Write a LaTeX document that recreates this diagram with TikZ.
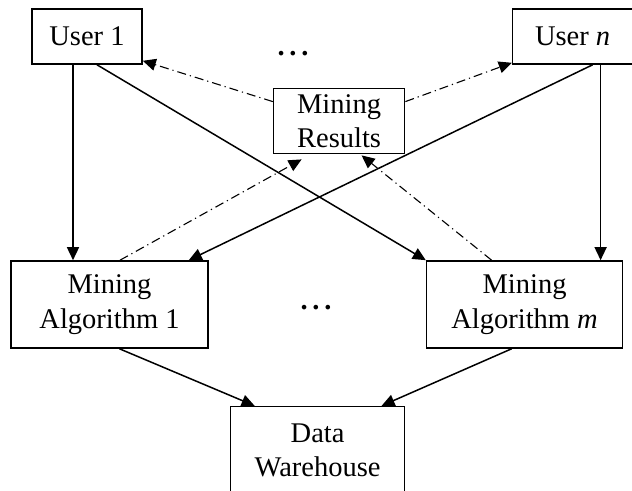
\documentclass[tikz,border=0pt]{standalone}
\usepackage{fontspec}
\setmainfont{Liberation Serif}
\usetikzlibrary{arrows.meta,positioning}

\begin{document}
\begin{tikzpicture}[
  x=0.5pt, y=-0.5pt,
  box/.style={draw, line width=0.8pt, align=center, inner sep=0pt,
              font=\fontsize{14.25}{17.25}\selectfont},
  dots/.style={inner sep=0pt, font=\fontsize{14.25}{17.25}\selectfont\bfseries},
  arr/.style={-{Triangle[length=6.5pt,width=6pt]}, line width=0.75pt},
  res/.style={-{Triangle[length=6.5pt,width=6pt]}, line width=0.55pt,
              dash pattern=on 4.5pt off 2pt on 0.6pt off 2pt}
]
\useasboundingbox (0,0) rectangle (632,491);
\node[box, minimum width=55pt, minimum height=27.5pt] (user1) at (87,36.5) {User 1};
\node[box, minimum width=60pt, minimum height=27.5pt, right=184.5pt of user1] (usern) {User \textit{n}};
\node[box, minimum width=65.5pt, minimum height=32.5pt, below right=11.5pt and 65pt of user1] (results) {Mining\\Results};
\node[box, minimum width=98.5pt, minimum height=43.5pt] (alg1) at (109.5,304.5) {Mining\\Algorithm 1};
\node[box, minimum width=98pt, minimum height=43.5pt, right=108.5pt of alg1] (algm) {Mining\\Algorithm \textit{m}};
\node[box, minimum width=87pt, minimum height=44pt, below right=28.5pt and 10.5pt of alg1] (ware) {Data\\Warehouse};
\node[dots] (dotsu) at (293,54) {.\,.\,.};
\node[dots] (dotsa) at (316,308) {.\,.\,.};
% users to algorithms
\draw[arr] ([xshift=-7pt]user1.south) -- ([xshift=-7pt]user1.south |- alg1.north);
\draw[arr] ([xshift=5pt]user1.south) -- (algm.north west);
\draw[arr] ([xshift=10pt]usern.south) -- ([xshift=-10pt]alg1.north east);
\draw[arr] ([xshift=14pt]usern.south) -- ([xshift=14pt]usern.south |- algm.north);
% algorithms to warehouse
\draw[arr] ([xshift=5pt]alg1.south) -- ([xshift=-31.5pt]ware.north);
\draw[arr] ([xshift=-6.5pt]algm.south) -- ([xshift=32pt]ware.north);
% results
\draw[res] ([yshift=9.75pt]results.west) -- ([yshift=2pt]user1.south east);
\draw[res] ([yshift=9.75pt]results.east) -- ([yshift=1pt]usern.south west);
\draw[res] ([xshift=5.25pt]alg1.north) -- ([xshift=-18.75pt,yshift=-2.5pt]results.south);
\draw[res] ([xshift=-16.5pt]algm.north) -- ([xshift=11.25pt,yshift=-0.5pt]results.south);
\end{tikzpicture}
\end{document}
